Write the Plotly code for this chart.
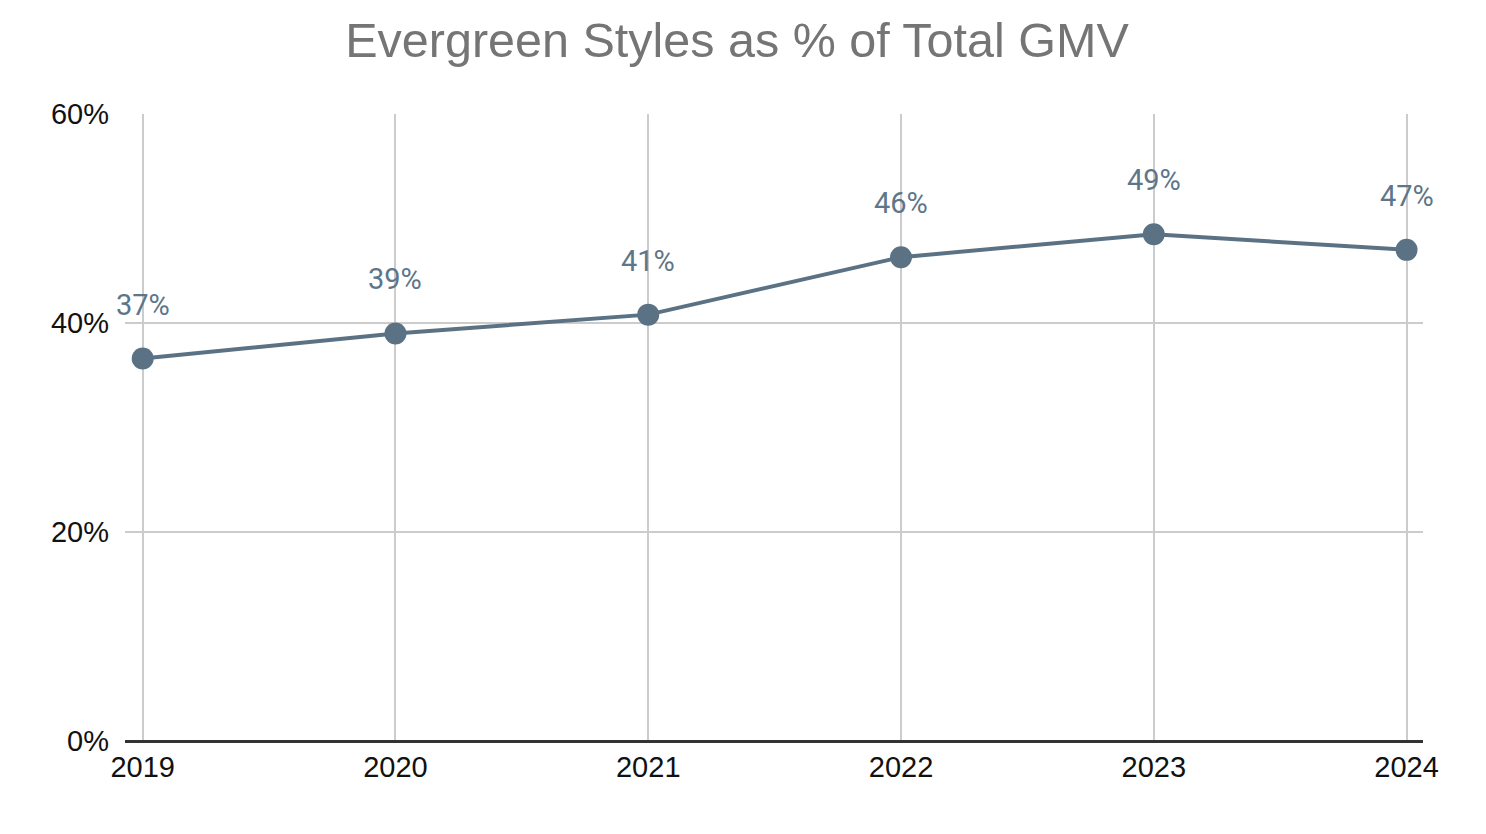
import plotly.graph_objects as go

years = [2019, 2020, 2021, 2022, 2023, 2024]
share = [0.366, 0.390, 0.408, 0.463, 0.485, 0.470]
labels = ["37%", "39%", "41%", "46%", "49%", "47%"]
y_ticks = [0, 0.2, 0.4, 0.6]
y_tick_text = ["0%", "20%", "40%", "60%"]

line_color = "#5b7285"
label_color = "#5e7689"

fig = go.Figure()
fig.add_trace(go.Scatter(
    x=years, y=share,
    mode="lines+markers",
    line=dict(color=line_color, width=4),
    marker=dict(color=line_color, size=22),
    cliponaxis=False,
    hoverinfo="skip",
))

for xv, yv, t in zip(years, share, labels):
    fig.add_annotation(
        x=xv, y=yv, text=t, showarrow=False,
        xanchor="center", yanchor="middle", yshift=54,
        font=dict(family="Roboto", size=29, color=label_color),
    )

fig.update_layout(
    width=1486, height=834,
    paper_bgcolor="white", plot_bgcolor="white",
    margin=dict(l=117, r=71, t=106, b=101),
    showlegend=False,
    title=dict(
        text="Evergreen Styles as % of Total GMV",
        font=dict(family="Arial", size=48.5, color="#757575"),
        x=0.4715, xanchor="center", xref="paper",
        y=1 - 32 / 834, yanchor="middle", yref="container",
    ),
)
fig.update_xaxes(
    range=[2018.93, 2024.065],
    tickvals=years, ticktext=[str(y) for y in years],
    showgrid=True, gridcolor="#cccccc", gridwidth=1.5,
    zeroline=False,
    showline=False,
    ticks="",
    tickfont=dict(family="Arial", size=29, color="#111111"),
    ticklabelstandoff=6,
)
fig.update_yaxes(
    range=[0, 0.6],
    tickvals=y_ticks, ticktext=y_tick_text,
    showgrid=True, gridcolor="#cccccc", gridwidth=1.5,
    zeroline=True, zerolinecolor="#333333", zerolinewidth=2.5,
    showline=False,
    ticks="",
    tickfont=dict(family="Arial", size=29, color="#111111"),
    ticklabelstandoff=15,
)

fig.write_html("out.html")
